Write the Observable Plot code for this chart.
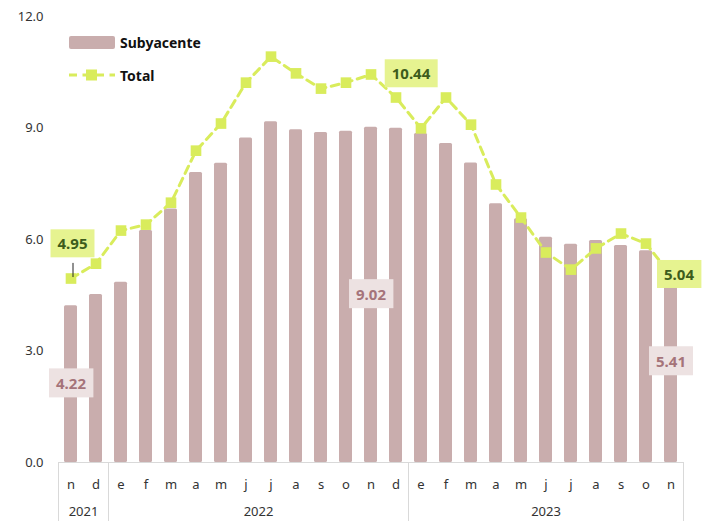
<!DOCTYPE html>
<html>
<head>
<meta charset="utf-8">
<script src="https://cdn.jsdelivr.net/npm/d3@7"></script>
<script src="https://cdn.jsdelivr.net/npm/@observablehq/plot@0.6"></script>
<style>
  body { margin: 0; background: #fff; font-family: "Noto Sans", sans-serif; }
  #wrap { position: relative; width: 705px; height: 521px; }
  .legend { position: absolute; left: 69px; top: 32px; font-family: "Noto Sans", sans-serif; font-weight: bold; font-size: 14px; color: #111; }
  .legend .row { display: flex; align-items: center; height: 20px; margin-bottom: 13px; }
  .legend .sw { width: 46px; height: 13px; background: #c9adad; border-radius: 2px; margin-right: 5px; }
  .legend svg { margin-right: 5px; }
</style>
</head>
<body>
<div id="wrap"></div>
<script>
// ---- data ----
const months = ["n","d","e","f","m","a","m","j","j","a","s","o","n","d","e","f","m","a","m","j","j","a","s","o","n"];
const years = ["2021","2021","2022","2022","2022","2022","2022","2022","2022","2022","2022","2022","2022","2022","2023","2023","2023","2023","2023","2023","2023","2023","2023","2023","2023"];
const subyacente = [4.22,4.52,4.85,6.24,6.82,7.80,8.05,8.73,9.17,8.95,8.88,8.91,9.02,8.99,8.85,8.58,8.06,6.96,6.56,6.06,5.87,5.97,5.84,5.70,5.41];
const total = [4.95,5.35,6.24,6.40,6.99,8.39,9.12,10.22,10.92,10.47,10.06,10.22,10.44,9.82,8.99,9.82,9.09,7.48,6.59,5.65,5.19,5.76,6.16,5.89,5.04];
const yTicks = [0, 3, 6, 9, 12];
const labeledIdx = [0, 12, 24];

// ---- build ----
const W = 705, H = 521, ML = 58, MR = 22, MT = 16, MB = 59;
const step = (W - ML - MR) / months.length;
const keys = months.map((_, i) => String(i));
const rows = keys.map((k, i) => ({k, i, sub: subyacente[i], tot: total[i], year: years[i]}));

const groups = d3.groups(rows, d => d.year).map(([year, rs]) => {
  const a = rs[0].i, b = rs[rs.length - 1].i, mid = (a + b) / 2;
  return {year, a, b, mid};
});
const sepRows = [];
groups.forEach(g => sepRows.push({k: String(g.a), dx: -step / 2}));
sepRows.push({k: String(groups[groups.length - 1].b), dx: step / 2});

const green = "#d9ec5c";
const barColor = "#c9adad";
const totTextColor = "#3d5c1c";
const barTextColor = "#a5747a";

const totLbl = [
  {k: "0", v: total[0], dx: 1.5, dy: -34},
  {k: "12", v: total[12], dx: 40, dy: 0},
  {k: "24", v: total[24], dx: 8, dy: 0}
];
const subLbl = labeledIdx.map(i => ({k: String(i), v: subyacente[i]}));

const marks = [
  Plot.barY(rows, {x: "k", y: "sub", fill: barColor, rx: 1.5}),
  Plot.ruleY([0], {stroke: "#d9d9d9", strokeWidth: 1}),
  ...sepRows.map(s => Plot.ruleX([s], {x: "k", y1: 0, y2: -MB / ((H - MT - MB) / 12), dx: s.dx, stroke: "#d9d9d9", strokeWidth: 1})),
  Plot.line(rows, {x: "k", y: "tot", stroke: green, strokeWidth: 3, strokeDasharray: "8,5.5"}),
  Plot.dot(rows, {x: "k", y: "tot", symbol: "square", r: 6, fill: green, stroke: "none"}),
  Plot.link([totLbl[0]], {x1: "k", x2: "k", y1: d => d.v + 0.04, y2: d => d.v + 0.42, stroke: "#222", strokeWidth: 1, dx: 2}),
  Plot.text(subLbl, {x: "k", y: d => d.v / 2, text: d => d.v.toFixed(2), fill: barTextColor, fontWeight: "bold", fontSize: 15}),
  ...totLbl.map(t => Plot.text([t], {x: "k", y: "v", text: d => d.v.toFixed(2), dx: t.dx, dy: t.dy, fill: totTextColor, fontWeight: "bold", fontSize: 15})),
  ...groups.map(g => Plot.text([g], {x: d => String(Math.floor(d.mid)), text: "year", frameAnchor: "bottom", dy: 53, dx: (g.mid - Math.floor(g.mid)) * step, fill: "#333", fontSize: 13}))
];

const chart = Plot.plot({
  width: W, height: H,
  marginLeft: ML, marginRight: MR, marginTop: MT, marginBottom: MB,
  style: {fontFamily: "'Noto Sans', sans-serif", fontSize: "13px", color: "#333", background: "#fff"},
  x: {domain: keys, paddingInner: 0.48, paddingOuter: 0.24, tickSize: 0, tickPadding: 17, tickFormat: d => months[+d], label: null},
  y: {domain: [0, 12], ticks: yTicks, tickFormat: d => d.toFixed(1), tickSize: 0, tickPadding: 15, label: null},
  marks
});

const wrap = document.getElementById("wrap");
wrap.appendChild(chart);

// label boxes behind text
function boxes(color, fill, padX, padY) {
  const texts = [];
  chart.querySelectorAll("text").forEach(t => {
    const f = (t.getAttribute("fill") || (t.parentNode && t.parentNode.getAttribute("fill")) || "").toLowerCase();
    if (f === color) texts.push(t);
  });
  texts.forEach(t => {
    const b = t.getBBox();
    const r = document.createElementNS("http://www.w3.org/2000/svg", "rect");
    r.setAttribute("x", b.x - padX);
    r.setAttribute("y", b.y - padY);
    r.setAttribute("width", b.width + 2 * padX);
    r.setAttribute("height", b.height + 2 * padY);
    r.setAttribute("fill", fill);
    if (t.getAttribute("transform")) r.setAttribute("transform", t.getAttribute("transform"));
    t.parentNode.insertBefore(r, t);
  });
}
boxes(barTextColor, "#ede2e2", 7, 4.5);
boxes(totTextColor, "#e6f390", 7, 4);

// legend
const legend = document.createElement("div");
legend.className = "legend";
legend.innerHTML = `
  <div class="row"><div class="sw"></div><span>Subyacente</span></div>
  <div class="row"><svg width="46" height="14"><line x1="0" y1="7" x2="46" y2="7" stroke="${green}" stroke-width="3" stroke-dasharray="8,5.5"/><rect x="17" y="1.5" width="11" height="11" fill="${green}"/></svg><span>Total</span></div>`;
wrap.appendChild(legend);
</script>
</body>
</html>
